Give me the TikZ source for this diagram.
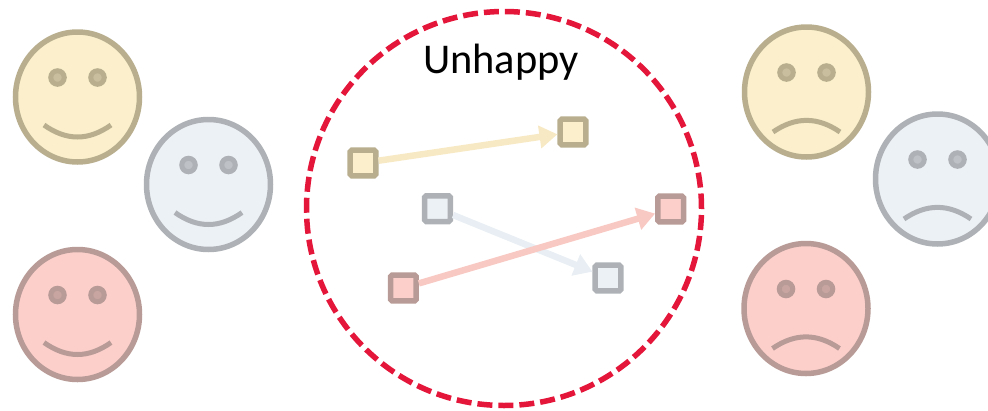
\documentclass[tikz,border=0pt]{standalone}
\usepackage{fontspec}
\setmainfont{Carlito}
\usetikzlibrary{arrows.meta,shapes.geometric}
\definecolor{yf}{HTML}{FBF0CB}\definecolor{yb}{HTML}{B9AF8F}\definecolor{ya}{HTML}{F7E9C3}\definecolor{ye}{HTML}{C9BF9F}
\definecolor{bf}{HTML}{ECF1F5}\definecolor{bb}{HTML}{AEB2B6}\definecolor{ba}{HTML}{E8EEF3}\definecolor{be}{HTML}{BEC2C6}
\definecolor{rf}{HTML}{FDCFCB}\definecolor{rb}{HTML}{B89B97}\definecolor{ra}{HTML}{F8C9C3}\definecolor{re}{HTML}{C8A5A1}
\definecolor{dashred}{HTML}{E4173A}
\tikzset{
  sq/.style 2 args={draw=#2,fill=#1,line width=5.5pt,minimum size=25.6pt,inner sep=0pt,outer sep=2.75pt,rectangle,rounded corners=1.5pt},
  link/.style={line width=6.5pt,draw=#1,-{Triangle[length=18pt,width=22pt]}},
}
% face: name, x, y, fill, border, eye, mouth control offset, end offset
\newcommand{\myface}[8]{%
  \node[ellipse,draw=#5,fill=#4,line width=5.5pt,minimum width=124pt,minimum height=130pt,inner sep=0pt,outer sep=0pt] (#1) at (#2,#3) {};
  \node[circle,draw=#5,fill=#6,line width=5pt,minimum size=13.5pt,inner sep=0pt] (#1L) at (#2-20,#3-19.5) {};
  \node[circle,draw=#5,fill=#6,line width=5pt,minimum size=13.5pt,inner sep=0pt] (#1R) at (#2+20,#3-19.5) {};
  \draw[#5,line width=5pt] (#2-33.5,#3+#8) .. controls (#2-11,#3+#7) and (#2+11,#3+#7) .. (#2+33.5,#3+#8);
}
\begin{document}
\begin{tikzpicture}[x=1pt,y=-1pt]
\useasboundingbox (0,0) rectangle (988,410);
\myface{fa}{77.5}{97}{yf}{yb}{ye}{44}{28}
\myface{fb}{208.5}{184.5}{bf}{bb}{be}{44}{28}
\myface{fc}{77.5}{314.5}{rf}{rb}{re}{44}{28}
\myface{fd}{806.5}{92}{yf}{yb}{ye}{24.5}{40}
\myface{fe}{937.5}{179}{bf}{bb}{be}{24.5}{40}
\myface{ff}{806}{308.5}{rf}{rb}{re}{24.5}{40}
\node[ellipse,draw=dashred,line width=5.5pt,dash pattern=on 15pt off 6pt,minimum width=395pt,minimum height=394pt,inner sep=0pt] (ring) at (504,208.5) {};
\node[font=\fontsize{42.4}{48}\selectfont,inner sep=0pt] (title) at (501,62) {Unhappy};
\node[sq={yf}{yb}] (y1) at (363,163) {};
\node[sq={yf}{yb}] (y2) at (573,132) {};
\node[sq={bf}{bb}] (b1) at (437.5,208.7) {};
\node[sq={bf}{bb}] (b2) at (608,278) {};
\node[sq={rf}{rb}] (r1) at (403.3,288) {};
\node[sq={rf}{rb}] (r2) at (670.7,209) {};
\draw[link=ya] (y1) -- (y2);
\draw[link=ba] (b1) -- (b2);
\draw[link=ra] (r1) -- (r2);
\end{tikzpicture}
\end{document}
